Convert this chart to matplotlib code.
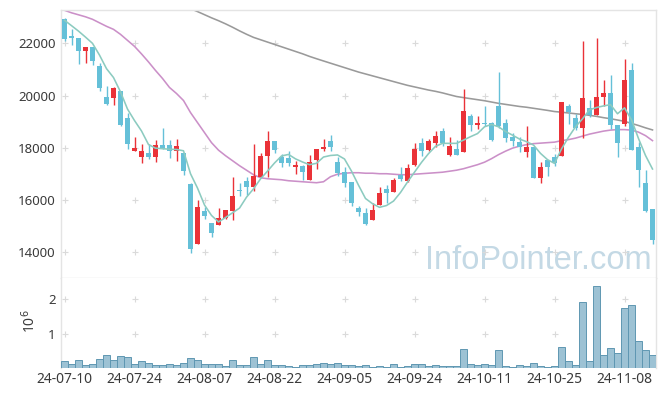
import matplotlib
matplotlib.use("Agg")
import matplotlib.pyplot as plt
import numpy as np

# 일봉 시가/고가/저가/종가 (85 거래일, 24-07-10 ~ 24-11-14)
opens = [22923, 22281, 22219, 21704, 21846, 21115, 19961, 19896, 20192, 19154,
         17858, 17627, 17808, 17627, 18115, 18115, 17873, 17808, 16588, 14296,
         15577, 15115, 15050, 15296, 15577, 16385, 16731, 16473, 16858, 17665,
         18269, 17654, 17588, 17269, 17308, 16758, 17527, 17950, 18269, 17462,
         17050, 16665, 15704, 15500, 15231, 15819, 16411, 16281, 16950, 16704,
         17335, 18181, 17923, 18165, 18654, 17731, 17961, 17819, 19231, 18885,
         18960, 18950, 19615, 18950, 18423, 18231, 17846, 18038, 16819, 17538,
         17627, 17665, 19615, 19142, 18742, 19527, 19258, 19935, 20115, 18873,
         18911, 20961, 18038, 16654, 15654]
highs = [22960, 22538, 22219, 21846, 21846, 21258, 20373, 20330, 20192, 19319,
         18396, 18142, 18142, 18296, 18769, 18296, 18335, 17808, 16642, 16011,
         15731, 15115, 15704, 15627, 16885, 16642, 16858, 18142, 17780, 18654,
         18269, 17757, 17885, 17500, 17346, 17731, 17950, 18335, 18488, 17654,
         17242, 16665, 15769, 15704, 15873, 16473, 16577, 16850, 17242, 17373,
         18165, 18358, 18335, 18654, 18758, 18396, 18296, 20258, 19296, 19231,
         19588, 19000, 20896, 19104, 18565, 18396, 18846, 18038, 17435, 17538,
         17757, 19769, 19681, 19296, 22077, 19835, 22219, 20604, 20796, 18873,
         21411, 21258, 18204, 17142, 15654]
lows = [22077, 21950, 21219, 21258, 21154, 20192, 19627, 19627, 18846, 17950,
        17858, 17423, 17565, 17435, 17950, 17604, 17500, 16950, 13973, 14296,
        15258, 14588, 15027, 15258, 15219, 16154, 16181, 16346, 16858, 16858,
        17780, 17242, 17308, 16988, 16758, 16758, 17181, 17885, 17885, 16923,
        16473, 15769, 15385, 15027, 15231, 15819, 15896, 16281, 16704, 16665,
        17281, 17692, 17885, 18011, 18077, 17692, 17731, 17819, 18654, 18719,
        18846, 18250, 18758, 18231, 18050, 17819, 17627, 16819, 16642, 16923,
        17308, 17665, 18911, 18681, 18358, 19192, 19258, 19615, 18719, 17627,
        18846, 17911, 16500, 15538, 14315]
closes = [22154, 22219, 21704, 21846, 21319, 20269, 19692, 20269, 18884, 18127,
          18000, 17885, 17627, 18104, 17950, 17873, 18050, 17088, 14127, 15731,
          15396, 14742, 15308, 15604, 16154, 16319, 16473, 16923, 17692, 18269,
          17911, 17396, 17396, 17335, 17050, 17462, 17950, 18011, 18011, 17027,
          16627, 15896, 15550, 15088, 15615, 16269, 16269, 16758, 16781, 17231,
          17950, 17873, 18269, 18450, 18165, 18077, 17731, 19396, 18885, 18961,
          18900, 18296, 18846, 18358, 18242, 18011, 18038, 16819, 17269, 17242,
          17411, 19769, 19358, 18758, 19896, 19269, 19961, 20115, 18873, 18165,
          20577, 17911, 17142, 15577, 14473]

# 거래량 (단위 10^6)
volumes = [0.19, 0.13, 0.24, 0.09, 0.13, 0.26, 0.38, 0.22, 0.35, 0.33,
           0.13, 0.19, 0.16, 0.09, 0.09, 0.13, 0.10, 0.16, 0.29, 0.24,
           0.13, 0.13, 0.13, 0.07, 0.24, 0.10, 0.10, 0.33, 0.13, 0.24,
           0.10, 0.10, 0.06, 0.04, 0.09, 0.09, 0.13, 0.16, 0.13, 0.16,
           0.10, 0.10, 0.07, 0.10, 0.03, 0.07, 0.03, 0.13, 0.03, 0.07,
           0.13, 0.13, 0.07, 0.10, 0.07, 0.07, 0.07, 0.54, 0.13, 0.10,
           0.13, 0.10, 0.51, 0.07, 0.03, 0.10, 0.07, 0.16, 0.07, 0.03,
           0.06, 0.62, 0.19, 0.10, 1.92, 0.19, 2.39, 0.38, 0.59, 0.45,
           1.75, 1.83, 0.79, 0.51, 0.38]

# 이동평균선
ma5 = [22885, 22680, 22470, 22240, 22000, 21550, 21030, 20690, 20140, 19480,
       19040, 18640, 18120, 17980, 17960, 17940, 17930, 17880, 17000, 16450,
       15800, 15400, 15150, 15320, 15500, 15680, 16100, 16420, 16800, 17100,
       17410, 17680, 17740, 17570, 17450, 17346, 17400, 17640, 17700, 17720,
       17565, 17100, 16560, 16050, 15850, 15710, 15780, 15950, 16280, 16680,
       17060, 17435, 17770, 18050, 18165, 18165, 18165, 18290, 18420, 18540,
       18800, 18890, 18800, 18620, 18480, 18330, 18230, 18100, 17780, 17540,
       17396, 17950, 18400, 18800, 19104, 19450, 19540, 19600, 19650, 19300,
       19527, 19070, 18350, 17700, 17181]
ma20 = [23269, 23173, 23096, 23019, 22923, 22788, 22654, 22538, 22346, 22115,
        21885, 21596, 21288, 20961, 20654, 20308, 20077, 19808, 19346, 18961,
        18577, 18192, 17904, 17692, 17500, 17308, 17135, 16961, 16846, 16808,
        16788, 16769, 16731, 16712, 16692, 16673, 16654, 16692, 16885, 16981,
        17019, 17038, 17038, 17019, 17019, 17000, 17000, 16981, 16961, 16961,
        16981, 17000, 17019, 17038, 17058, 17096, 17135, 17192, 17269, 17346,
        17442, 17577, 17731, 17865, 17981, 18058, 18115, 18154, 18173, 18192,
        18211, 18269, 18308, 18365, 18442, 18519, 18577, 18634, 18673, 18692,
        18692, 18673, 18596, 18461, 18269]
ma120 = [25490, 25370, 25250, 25130, 25010, 24890, 24770, 24650, 24530, 24410,
         24290, 24170, 24050, 23930, 23810, 23690, 23570, 23450, 23330, 23220,
         23100, 22980, 22870, 22750, 22620, 22480, 22350, 22230, 22140, 22050,
         21960, 21870, 21780, 21690, 21600, 21500, 21411, 21325, 21240, 21155,
         21070, 20985, 20900, 20827, 20754, 20681, 20608, 20535, 20462, 20390,
         20330, 20270, 20210, 20160, 20100, 20030, 19962, 19920, 19880, 19840,
         19800, 19750, 19700, 19660, 19620, 19580, 19550, 19510, 19470, 19430,
         19385, 19360, 19330, 19300, 19275, 19240, 19200, 19150, 19110, 19060,
         19010, 18930, 18850, 18760, 18680]

tick_labels = ["24-07-10", "24-07-24", "24-08-07", "24-08-22", "24-09-05",
               "24-09-24", "24-10-11", "24-10-25", "24-11-08"]
price_ticks = [14000, 16000, 18000, 20000, 22000]
vol_ticks = [1, 2]

UP = "#ea3238"
DOWN = "#65c0d8"
EDGE = "#e4e4e4"
TXT = "#3a3a3a"
FONT = "Noto Sans"

x = np.arange(len(closes))
o = np.array(opens); c = np.array(closes)
xt = x[::10][:len(tick_labels)]

fig = plt.figure(figsize=(6.65, 3.96), dpi=100)
ax = fig.add_axes([61/665, 1 - 278/396, 595/665, 268/396])
axv = fig.add_axes([61/665, 1 - 368/396, 595/665, 90/396])

# 워터마크
ax.text(0.803, 0.033, "InfoPointer.com", transform=ax.transAxes, ha="center", va="baseline",
        fontsize=23.5, color="#c4d9e5", family="Liberation Sans", zorder=0)

# 격자 (+ 모양)
gx, gy = np.meshgrid(xt, price_ticks)
ax.scatter(gx.ravel(), gy.ravel(), marker="+", s=22, color="#dadada", linewidths=0.8, zorder=1)

# 캔들
up = c >= o
cols = np.where(up, UP, DOWN)
ax.vlines(x, lows, highs, colors=cols, linewidth=1.0, zorder=3)
body = np.maximum(np.abs(c - o), 25)
ax.bar(x, body, bottom=np.minimum(o, c), width=0.6, color=cols, linewidth=0, zorder=4)

# 이동평균선
ax.plot(x, ma120, color="#9a9a9a", lw=1.15, zorder=2)
ax.plot(x, ma20, color="#cb90c8", lw=1.15, zorder=2)
ax.plot(x, ma5, color="#8ccbc0", lw=1.15, zorder=5)

ax.set_xlim(-0.5, len(x) - 0.5)
ax.set_ylim(13000, 23280)
ax.set_yticks(price_ticks)
ax.set_yticklabels([str(t) for t in price_ticks])
ax.set_xticks(xt)
ax.set_xticklabels([])

# 거래량
gx, gy = np.meshgrid(xt, vol_ticks)
axv.scatter(gx.ravel(), gy.ravel(), marker="+", s=22, color="#dadada", linewidths=0.8, zorder=1)
axv.bar(x, volumes, width=1.0, color="#9dc2d4", edgecolor="#5f97b2", linewidth=0.7, zorder=3)
axv.set_xlim(-0.5, len(x) - 0.5)
axv.set_ylim(0, 2.62)
axv.set_yticks(vol_ticks)
axv.set_yticklabels([str(t) for t in vol_ticks])
axv.set_xticks(xt)
axv.set_xticklabels(tick_labels)
axv.text(-0.053, 0.52, "10$^6$", transform=axv.transAxes, rotation=90, ha="center", va="center",
         fontsize=10, color=TXT, family=FONT)

for a in (ax, axv):
    a.set_facecolor("white")
    for s in a.spines.values():
        s.set_color(EDGE)
        s.set_linewidth(1.0)
    a.tick_params(length=0, colors=TXT, labelsize=9.5, pad=4)
    for lab in a.get_xticklabels() + a.get_yticklabels():
        lab.set_family(FONT)
axv.spines["bottom"].set_visible(False)
axv.spines["top"].set_visible(False)
axv.tick_params(axis="x", labelsize=10, pad=3)

fig.savefig("out.png", dpi=100, facecolor="white")
